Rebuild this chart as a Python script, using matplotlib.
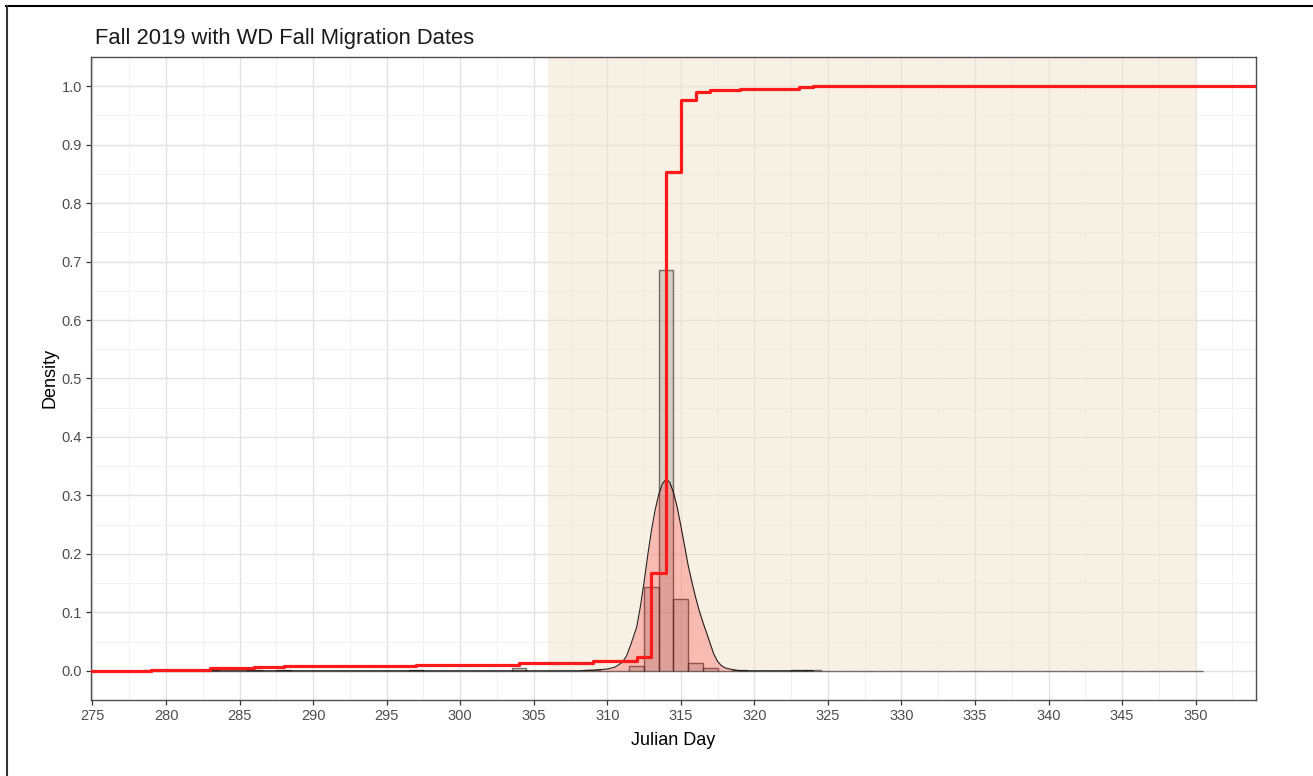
import numpy as np
import matplotlib
matplotlib.use("Agg")
import matplotlib.pyplot as plt
from matplotlib.lines import Line2D
from matplotlib.ticker import MultipleLocator

plt.rcParams['font.family'] = ['Liberation Sans', 'DejaVu Sans']

# ---- data ----
title = "Fall 2019 with WD Fall Migration Dates"

# detections per Julian day (n = 500)
obs_days = [279, 283, 286, 288, 297, 304, 309, 312, 313, 314, 315, 316, 317, 319, 323, 324]
obs_counts = [1, 1, 1, 1, 1, 2, 1, 4, 72, 343, 61, 7, 2, 1, 1, 1]
hist_first, hist_last = 279, 350

# kernel density curve
dens_x = [279, 308.0, 309.0, 309.5, 310.0, 310.5, 311.0, 311.3, 311.6, 312.0, 312.25,
          312.5, 312.75, 313.0, 313.25, 313.5, 313.75, 314.0, 314.25, 314.5, 314.75,
          315.0, 315.25, 315.5, 315.75, 316.0, 316.25, 316.5, 316.75, 317.0, 317.25,
          317.5, 317.75, 318.0, 318.5, 319.0, 324]
dens_y = [0.0, 0.0, 0.001, 0.002, 0.003, 0.006, 0.014, 0.025, 0.045, 0.075, 0.110,
          0.152, 0.198, 0.240, 0.275, 0.302, 0.320, 0.328, 0.322, 0.305, 0.280,
          0.248, 0.214, 0.180, 0.152, 0.126, 0.103, 0.083, 0.065, 0.046, 0.028,
          0.016, 0.009, 0.005, 0.002, 0.0, 0.0]

# WD fall migration window
window_start, window_end = 306, 350

# ---- figure ----
W, H = 1313, 776
fig = plt.figure(figsize=(W / 100, H / 100), dpi=100)
ax = fig.add_axes([91 / W, 1 - 700 / H, (1256 - 91) / W, (700 - 57) / H])

ax.set_xlim(274.9, 354.1)
ax.set_ylim(-0.05, 1.05)

ax.xaxis.set_major_locator(MultipleLocator(5))
ax.xaxis.set_minor_locator(MultipleLocator(2.5))
ax.yaxis.set_major_locator(MultipleLocator(0.1))
ax.yaxis.set_minor_locator(MultipleLocator(0.05))
ax.yaxis.set_major_formatter(lambda v, p: f"{v:.1f}")
ax.grid(which='major', color='#E3E3E3', lw=1.0, zorder=0)
ax.grid(which='minor', color='#EFEFEF', lw=0.6, zorder=0)
ax.set_axisbelow(True)

# migration window
ax.axvspan(window_start, window_end, ymin=0.05 / 1.10, ymax=1,
           facecolor='#F0E2CC', alpha=0.5, lw=0, zorder=1)

# histogram (density scale)
n = sum(obs_counts)
bins = np.arange(hist_first, hist_last + 1)
heights = np.zeros(len(bins))
for d, c in zip(obs_days, obs_counts):
    heights[d - hist_first] = c / n
ax.bar(bins, heights, width=1, facecolor=(0.42, 0.42, 0.38, 0.25),
       edgecolor=(0.15, 0.12, 0.1, 0.6), lw=1.0, zorder=2)

# density
ax.fill_between(dens_x, dens_y, 0, color=(1, 0, 0, 0.22), lw=0, zorder=3)
ax.plot(dens_x, dens_y, color='black', lw=0.8, alpha=0.85, zorder=3)

# ECDF
cum = np.cumsum(obs_counts) / n
x0, x1 = ax.get_xlim()
ecdf_x = [x0] + obs_days + [x1]
ecdf_y = [0.0] + list(cum) + [1.0]
ax.step(ecdf_x, ecdf_y, where='post', color='#FF1A1A', lw=2.3, zorder=4)

# axes styling
for s in ax.spines.values():
    s.set_color('#4D4D4D')
    s.set_linewidth(1.0)
ax.tick_params(which='major', length=3.5, width=0.9, color='#333333',
               labelcolor='#4D4D4D', labelsize=10.5)
ax.tick_params(axis='x', pad=3)
ax.tick_params(axis='y', pad=3)
ax.tick_params(which='minor', length=0)

fig.text(95 / W, 1 - 44 / H, title, fontsize=15.8, color='#1A1A1A',
         ha='left', va='baseline')
fig.text(673.5 / W, 1 - 745 / H, "Julian Day", fontsize=13, ha='center', va='baseline')
fig.text(50 / W, 1 - 378 / H, "Density", fontsize=13, rotation=90,
         ha='center', va='center')

# outer frame (top and left edges visible)
fig.add_artist(Line2D([6 / W, 1], [1 - 6 / H, 1 - 6 / H], color='black', lw=1.5))
fig.add_artist(Line2D([6.5 / W, 6.5 / W], [0, 1 - 6 / H], color='#333333', lw=1.5))

fig.savefig("out.png", dpi=100)
